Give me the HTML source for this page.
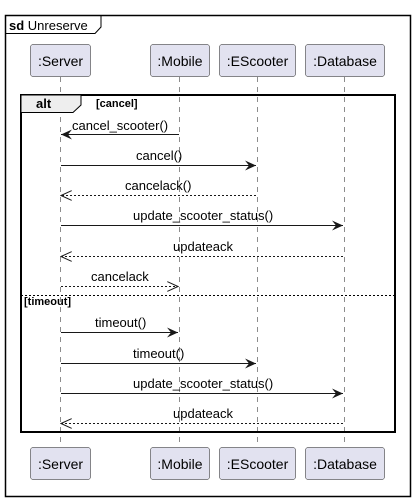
<!DOCTYPE html>
<html><head><style>html,body{margin:0;padding:0;background:#fff}svg{display:block}</style></head>
<body>
<svg width="416" height="502" viewBox="0 0 416 502" xmlns="http://www.w3.org/2000/svg" font-family="Liberation Sans, sans-serif" font-size="12">
<defs>
<marker id="f" markerWidth="12" markerHeight="10" refX="11" refY="5" orient="auto" markerUnits="userSpaceOnUse"><path d="M0,0 L11,5 L0,10 L4,5 Z" fill="#181818"/></marker>
<marker id="o" markerWidth="12" markerHeight="10" refX="11" refY="5" orient="auto" markerUnits="userSpaceOnUse"><path d="M0,0 L11,5 L0,10" fill="none" stroke="#181818" stroke-width="1"/></marker>
</defs>
<rect x="5.5" y="15.5" width="405" height="481" fill="none" stroke="#000" stroke-width="1.5"/>
<path d="M5.5,33.5 H95 L101,27 V15.5" fill="none" stroke="#000" stroke-width="1"/>
<text x="9" y="30" font-size="13"><tspan font-weight="bold">sd</tspan> Unreserve</text>
<g stroke="#181818" stroke-width="0.5" stroke-dasharray="5,5">
<line x1="60.5" y1="77" x2="60.5" y2="447"/>
<line x1="179.5" y1="77" x2="179.5" y2="447"/>
<line x1="257.5" y1="77" x2="257.5" y2="447"/>
<line x1="344.5" y1="77" x2="344.5" y2="447"/>
</g>
<g fill="#e2e2f0" stroke="#181818" stroke-width="0.5">
<rect x="30.5" y="44.5" width="60" height="32" rx="2.5"/>
<rect x="150.5" y="44.5" width="59" height="32" rx="2.5"/>
<rect x="219.5" y="44.5" width="76" height="32" rx="2.5"/>
<rect x="305.5" y="44.5" width="79" height="32" rx="2.5"/>
<rect x="30.5" y="447.5" width="60" height="32" rx="2.5"/>
<rect x="150.5" y="447.5" width="59" height="32" rx="2.5"/>
<rect x="219.5" y="447.5" width="76" height="32" rx="2.5"/>
<rect x="305.5" y="447.5" width="79" height="32" rx="2.5"/>
</g>
<g font-size="14" fill="#000" text-anchor="middle">
<text x="60.5" y="66">:Server</text><text x="180" y="66">:Mobile</text><text x="257.5" y="66">:EScooter</text><text x="345" y="66">:Database</text>
<text x="60.5" y="469">:Server</text><text x="180" y="469">:Mobile</text><text x="257.5" y="469">:EScooter</text><text x="345" y="469">:Database</text>
</g>
<rect x="21" y="95" width="374" height="337" fill="none" stroke="#000" stroke-width="2"/>
<path d="M21,95 H81 V105 L73,112.5 H21 Z" fill="#eeeeee" stroke="#000" stroke-width="1"/>
<text x="36" y="108" font-weight="bold" font-size="13">alt</text>
<text x="96" y="107" font-weight="bold" font-size="11">[cancel]</text>
<line x1="21" y1="295.5" x2="395" y2="295.5" stroke="#000" stroke-width="1" stroke-dasharray="2,2"/>
<text x="24" y="305" font-weight="bold" font-size="11">[timeout]</text>
<g stroke="#181818" stroke-width="1" fill="none">
<line x1="179" y1="134.5" x2="61" y2="134.5" marker-end="url(#f)"/>
<line x1="61" y1="165.5" x2="256" y2="165.5" marker-end="url(#f)"/>
<line x1="256" y1="195.5" x2="61" y2="195.5" stroke-dasharray="2,2" marker-end="url(#o)"/>
<line x1="61" y1="225.5" x2="343" y2="225.5" marker-end="url(#f)"/>
<line x1="343" y1="256.5" x2="61" y2="256.5" stroke-dasharray="2,2" marker-end="url(#o)"/>
<line x1="61" y1="286.5" x2="178" y2="286.5" stroke-dasharray="2,2" marker-end="url(#o)"/>
<line x1="61" y1="332.5" x2="178" y2="332.5" marker-end="url(#f)"/>
<line x1="61" y1="363.5" x2="256" y2="363.5" marker-end="url(#f)"/>
<line x1="61" y1="393.5" x2="343" y2="393.5" marker-end="url(#f)"/>
<line x1="343" y1="423.5" x2="61" y2="423.5" stroke-dasharray="2,2" marker-end="url(#o)"/>
</g>
<g font-size="13" fill="#000">
<text x="72" y="130">cancel_scooter()</text>
<text x="136" y="160">cancel()</text>
<text x="125" y="190">cancelack()</text>
<text x="133" y="220">update_scooter_status()</text>
<text x="173" y="251">updateack</text>
<text x="91" y="281">cancelack</text>
<text x="95" y="327">timeout()</text>
<text x="133" y="358">timeout()</text>
<text x="133" y="388">update_scooter_status()</text>
<text x="173" y="418">updateack</text>
</g>
</svg>
</body></html>
